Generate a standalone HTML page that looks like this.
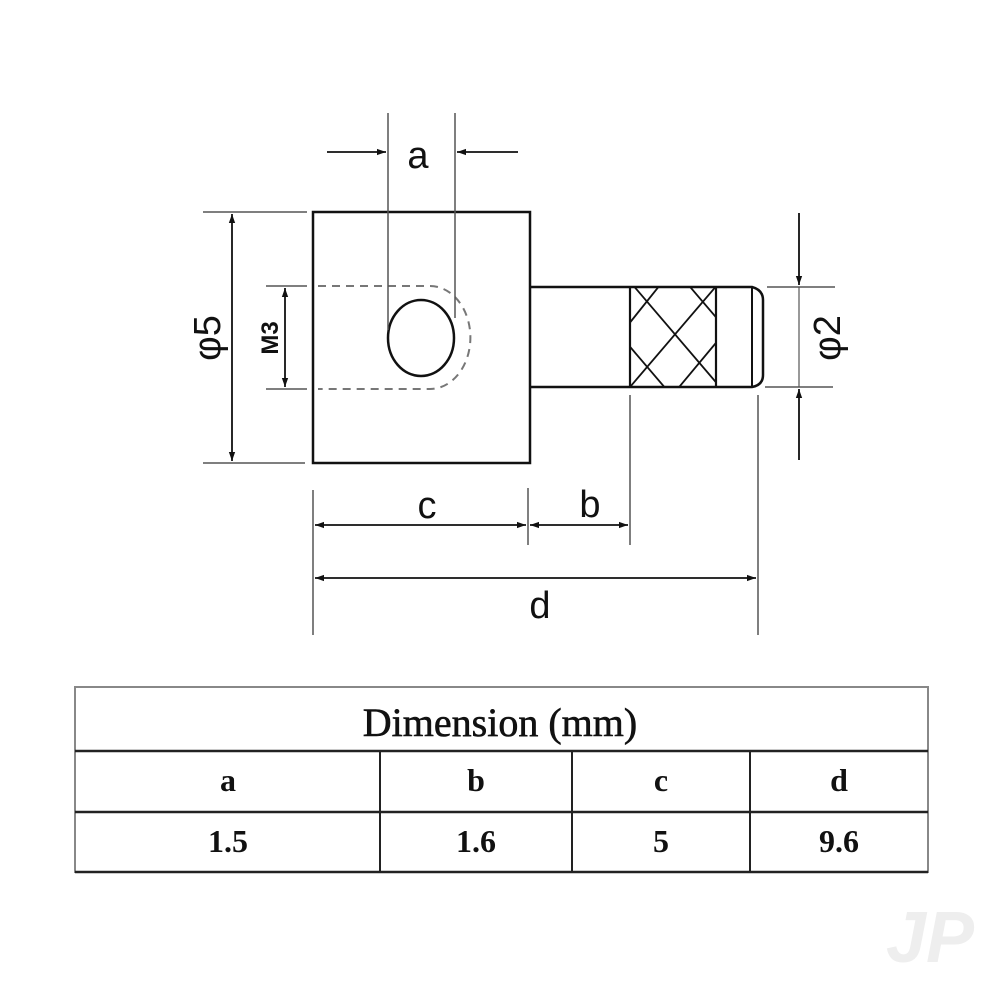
<!DOCTYPE html>
<html><head><style>
html,body{margin:0;padding:0;background:#fff;}
svg{display:block;}
</style></head><body>
<svg width="1000" height="1000" viewBox="0 0 1000 1000" xmlns="http://www.w3.org/2000/svg">
<defs>
<marker id="ar" viewBox="0 0 10 10" refX="10" refY="5" markerWidth="16" markerHeight="9" markerUnits="userSpaceOnUse" orient="auto-start-reverse">
<path d="M0,1.5 L10,5 L0,8.5 z" fill="#111"/></marker>
<clipPath id="kc"><rect x="630" y="287" width="86" height="100"/></clipPath>
</defs>
<g stroke="#111" fill="none">
<rect x="313" y="212" width="217" height="251" stroke-width="2.5"/>
<path d="M530,287 L752,287 Q763,290 763,300 L763,375 Q763,385 752,387 L530,387" stroke-width="2.5"/>
<line x1="752" y1="287" x2="752" y2="387" stroke-width="2"/>
<line x1="630" y1="287" x2="630" y2="387" stroke-width="2.2"/>
<line x1="716" y1="287" x2="716" y2="387" stroke-width="2.2"/>
<g stroke-width="1.8" clip-path="url(#kc)">
<line x1="600" y1="360" x2="680" y2="260"/>
<line x1="630" y1="387" x2="730" y2="270"/>
<line x1="660" y1="410" x2="760" y2="290"/>
<line x1="620" y1="270" x2="720" y2="387"/>
<line x1="590" y1="300" x2="690" y2="417"/>
<line x1="650" y1="240" x2="750" y2="357"/>
</g>
<ellipse cx="421" cy="338" rx="33" ry="38" stroke-width="2.5"/>
<path d="M318,286 L430,286 A40,51 0 0 1 430,389 L318,389" stroke="#777" stroke-width="2" stroke-dasharray="8,6"/>
<g stroke="#555" stroke-width="1.5">
<line x1="388" y1="113" x2="388" y2="330"/>
<line x1="455" y1="113" x2="455" y2="318"/>
<line x1="203" y1="212" x2="307" y2="212"/>
<line x1="203" y1="463" x2="305" y2="463"/>
<line x1="266" y1="286" x2="307" y2="286"/>
<line x1="266" y1="389" x2="307" y2="389"/>
<line x1="767" y1="287" x2="835" y2="287"/>
<line x1="765" y1="387" x2="833" y2="387"/>
<line x1="313" y1="490" x2="313" y2="635"/>
<line x1="528" y1="488" x2="528" y2="545"/>
<line x1="630" y1="395" x2="630" y2="545"/>
<line x1="758" y1="395" x2="758" y2="635"/>
</g>
<g stroke-width="1.8">
<line x1="327" y1="152" x2="386" y2="152" marker-end="url(#ar)"/>
<line x1="518" y1="152" x2="457" y2="152" marker-end="url(#ar)"/>
<line x1="232" y1="214" x2="232" y2="461" marker-start="url(#ar)" marker-end="url(#ar)"/>
<line x1="285" y1="288" x2="285" y2="387" marker-start="url(#ar)" marker-end="url(#ar)"/>
<line x1="799" y1="213" x2="799" y2="285" marker-end="url(#ar)"/>
<line x1="799" y1="460" x2="799" y2="389" marker-end="url(#ar)"/>
<line x1="799" y1="287" x2="799" y2="387" stroke="#555" stroke-width="1.2"/>
<line x1="315" y1="525" x2="526" y2="525" marker-start="url(#ar)" marker-end="url(#ar)"/>
<line x1="530" y1="525" x2="628" y2="525" marker-start="url(#ar)" marker-end="url(#ar)"/>
<line x1="315" y1="578" x2="756" y2="578" marker-start="url(#ar)" marker-end="url(#ar)"/>
</g>
</g>
<g font-family="Liberation Sans, sans-serif" font-size="38" fill="#111" text-anchor="middle">
<text x="418" y="168">a</text>
<text x="427" y="518">c</text>
<text x="590" y="517">b</text>
<text x="540" y="618">d</text>
<text transform="translate(220,338) rotate(-90)">φ5</text>
<text transform="translate(840,338) rotate(-90)">φ2</text>
<text transform="translate(278,338) rotate(-90)" font-size="24" font-weight="bold">M3</text>
</g>
<g stroke="#222" fill="none">
<rect x="75" y="687" width="853" height="185" stroke-width="2" stroke="#888"/>
<line x1="75" y1="751" x2="928" y2="751" stroke-width="2.5"/>
<line x1="75" y1="812" x2="928" y2="812" stroke-width="2.5"/>
<line x1="75" y1="872" x2="928" y2="872" stroke-width="2.5"/>
<line x1="380" y1="751" x2="380" y2="872" stroke-width="2"/>
<line x1="572" y1="751" x2="572" y2="872" stroke-width="2"/>
<line x1="750" y1="751" x2="750" y2="872" stroke-width="2"/>
</g>
<g font-family="Liberation Serif, serif" fill="#111" text-anchor="middle">
<text x="500" y="736" font-size="40" stroke="#111" stroke-width="0.6">Dimension (mm)</text>
<g font-size="32" font-weight="bold">
<text x="228" y="791">a</text><text x="476" y="791">b</text><text x="661" y="791">c</text><text x="839" y="791">d</text>
<text x="228" y="852">1.5</text><text x="476" y="852">1.6</text><text x="661" y="852">5</text><text x="839" y="852">9.6</text>
</g>
</g>
<text x="930" y="962" font-family="Liberation Sans, sans-serif" font-size="72" font-weight="bold" font-style="italic" fill="#eee" text-anchor="middle">JP</text>
</svg>
</body></html>
